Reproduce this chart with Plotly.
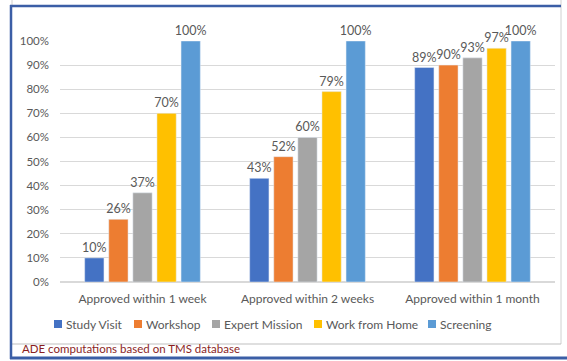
import plotly.graph_objects as go

categories = ["Approved within 1 week", "Approved within 2 weeks", "Approved within 1 month"]
study_visit = [10, 43, 89]
workshop = [26, 52, 90]
expert_mission = [37, 60, 93]
work_from_home = [70, 79, 97]
screening = [100, 100, 100]

series = [
    ("Study Visit", study_visit, "#4472C4"),
    ("Workshop", workshop, "#ED7D31"),
    ("Expert Mission", expert_mission, "#A5A5A5"),
    ("Work from Home", work_from_home, "#FFC000"),
    ("Screening", screening, "#5B9BD5"),
]

W, H = 567, 361
L, R, T, B = 60, 12, 41, 79
PW, PH = W - L - R, H - T - B

def px(x):
    return (x - L) / PW

def py(y):
    return (H - B - y) / PH

FONT = "Lato"
GREY = "#595959"

fig = go.Figure()
for name, vals, col in series:
    fig.add_trace(go.Bar(
        x=categories, y=vals, name=name, marker_color=col,
        text=[f"{v}%" for v in vals], textposition="outside",
        textfont=dict(family=FONT, size=12.5, color=GREY),
        cliponaxis=False, constraintext="none", showlegend=False,
    ))

# legend (layout positions, pixels)
legend_x = [54, 134, 212, 314, 428]
legend_y = 324
shapes = []
annotations = []
for (name, _, col), lx in zip(series, legend_x):
    shapes.append(dict(type="rect", xref="paper", yref="paper",
                       x0=px(lx), x1=px(lx + 8), y0=py(legend_y - 4), y1=py(legend_y + 4),
                       fillcolor=col, line=dict(width=0)))
    annotations.append(dict(text=name, xref="paper", yref="paper", x=px(lx + 10), y=py(legend_y),
                            xanchor="left", yanchor="middle", showarrow=False,
                            font=dict(family=FONT, size=12, color=GREY)))

shapes += [
    dict(type="line", xref="paper", yref="paper", x0=px(561), x1=px(561), y0=py(0), y1=py(344),
         line=dict(color="#D0D0D0", width=1)),
    dict(type="line", xref="paper", yref="paper", x0=px(12), x1=px(12), y0=py(0), y1=py(6),
         line=dict(color="#D0D0D0", width=1)),
    dict(type="line", xref="paper", yref="paper", x0=px(10), x1=px(561), y0=py(344), y1=py(344),
         line=dict(color="#BFBFBF", width=1)),
    dict(type="line", xref="paper", yref="paper", x0=px(11), x1=px(11), y0=py(5), y1=py(359),
         line=dict(color="#3B5EA6", width=2.5)),
    dict(type="line", xref="paper", yref="paper", x0=px(10), x1=px(561), y0=py(6), y1=py(6),
         line=dict(color="#3B5EA6", width=2.5)),
    dict(type="line", xref="paper", yref="paper", x0=px(10), x1=px(570), y0=py(358), y1=py(358),
         line=dict(color="#3B5EA6", width=3)),
]
annotations.append(dict(text="ADE computations based on TMS database", xref="paper", yref="paper",
                        x=px(20), y=py(348), xanchor="left", yanchor="middle", showarrow=False,
                        font=dict(family=FONT, size=11.5, color="#8B1E1E")))

fig.update_layout(
    width=W, height=H,
    margin=dict(l=L, r=R, t=T, b=B, autoexpand=False),
    paper_bgcolor="white", plot_bgcolor="white",
    barmode="group", bargap=0.27, bargroupgap=0.2,
    font=dict(family=FONT, size=11, color=GREY),
    showlegend=False,
    xaxis=dict(showgrid=False, showline=False, ticks="", automargin=False,
               tickfont=dict(family=FONT, size=12, color=GREY), ticklabelstandoff=8),
    yaxis=dict(range=[0, 100], dtick=10, ticksuffix="%", showgrid=True, gridcolor="#D9D9D9",
               gridwidth=1, zeroline=True, zerolinecolor="#D9D9D9", showline=False, automargin=False,
               tickfont=dict(family=FONT, size=11.5, color=GREY), ticklabelstandoff=10),
    shapes=shapes,
    annotations=annotations,
)

fig.write_html("out.html", config={"displayModeBar": False},
               post_script="document.body.style.margin='0px';document.body.style.overflow='hidden';")
